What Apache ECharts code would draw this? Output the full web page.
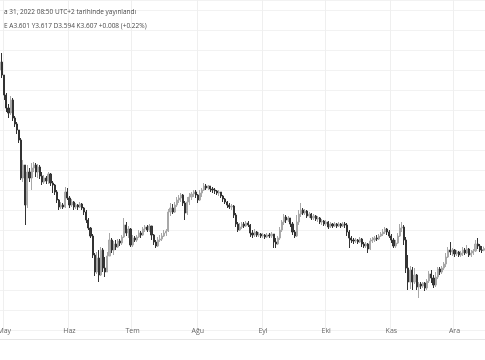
<!DOCTYPE html>
<html>
<head>
<meta charset="utf-8">
<script src="https://cdn.jsdelivr.net/npm/echarts@6/dist/echarts.min.js"></script>
<style>
html,body{margin:0;padding:0;background:#fff;}
#chart{width:485px;height:360px;}
</style>
</head>
<body>
<div id="chart"></div>
<script>
// ---- data ----
const startDate = '2022-04-29';
const monthNames = ['Oca','Şub','Mar','Nis','May','Haz','Tem','Ağu','Eyl','Eki','Kas','Ara'];
const headerLine1 = 'a 31, 2022 08:50 UTC+2 tarihinde yayınlandı';
const headerLine2 = 'E A3.601 Y3.617 D3.594 K3.607 +0.008 (+0.22%)';
const firstOpen = 4.500;
const closes = [4.540,4.475,4.375,4.310,4.285,4.350,4.260,4.230,4.200,4.150,
 3.960,4.025,3.825,3.990,3.960,4.010,4.025,3.990,4.015,3.970,
 3.940,3.960,3.945,3.980,3.935,3.925,3.890,3.850,3.815,3.825,
 3.815,3.890,3.860,3.825,3.840,3.815,3.825,3.815,3.830,3.810,
 3.790,3.750,3.710,3.670,3.575,3.490,3.560,3.475,3.600,3.510,
 3.490,3.570,3.650,3.600,3.630,3.615,3.645,3.635,3.665,3.725,
 3.685,3.705,3.625,3.660,3.650,3.665,3.685,3.675,3.705,3.715,
 3.700,3.720,3.675,3.640,3.620,3.650,3.655,3.670,3.685,3.695,
 3.790,3.810,3.790,3.825,3.850,3.860,3.875,3.835,3.785,3.840,
 3.865,3.880,3.890,3.875,3.850,3.885,3.900,3.920,3.910,3.920,
 3.905,3.900,3.895,3.885,3.890,3.870,3.855,3.840,3.825,3.815,
 3.820,3.775,3.730,3.700,3.715,3.730,3.720,3.735,3.725,3.685,
 3.675,3.690,3.675,3.680,3.670,3.675,3.665,3.675,3.670,3.680,
 3.640,3.630,3.660,3.700,3.740,3.765,3.750,3.760,3.730,3.690,
 3.670,3.740,3.780,3.800,3.785,3.795,3.770,3.780,3.760,3.770,
 3.755,3.760,3.740,3.745,3.730,3.740,3.715,3.730,3.720,3.730,
 3.720,3.730,3.720,3.730,3.725,3.690,3.660,3.650,3.645,3.650,
 3.640,3.655,3.630,3.620,3.630,3.605,3.645,3.650,3.660,3.655,
 3.670,3.680,3.690,3.705,3.690,3.670,3.650,3.620,3.635,3.670,
 3.710,3.715,3.650,3.510,3.440,3.500,3.440,3.475,3.415,3.430,
 3.420,3.435,3.410,3.445,3.480,3.460,3.425,3.465,3.505,3.490,
 3.510,3.530,3.565,3.600,3.590,3.600,3.580,3.590,3.575,3.585,
 3.600,3.585,3.605,3.575,3.585,3.595,3.630,3.620,3.600,3.599,
 3.607];
const highs = [4.565,4.585,4.460,4.385,4.330,4.370,4.360,4.270,4.240,4.200,
 4.160,4.050,4.025,4.025,4.010,4.035,4.040,4.035,4.030,4.025,
 3.990,3.975,3.970,3.990,3.985,3.945,3.930,3.900,3.855,3.840,
 3.835,3.915,3.910,3.870,3.855,3.845,3.835,3.830,3.840,3.835,
 3.815,3.800,3.760,3.715,3.680,3.585,3.590,3.600,3.615,3.610,
 3.565,3.590,3.685,3.660,3.645,3.650,3.655,3.655,3.675,3.760,
 3.740,3.720,3.710,3.675,3.670,3.675,3.700,3.695,3.715,3.725,
 3.725,3.730,3.715,3.680,3.650,3.665,3.675,3.685,3.700,3.705,
 3.805,3.835,3.830,3.840,3.865,3.875,3.885,3.880,3.845,3.865,
 3.885,3.890,3.900,3.900,3.880,3.900,3.910,3.935,3.930,3.925,
 3.920,3.915,3.910,3.900,3.900,3.890,3.875,3.860,3.845,3.835,
 3.830,3.825,3.785,3.740,3.735,3.740,3.740,3.745,3.745,3.730,
 3.700,3.705,3.695,3.690,3.685,3.685,3.680,3.685,3.685,3.690,
 3.680,3.660,3.670,3.715,3.750,3.780,3.775,3.770,3.760,3.740,
 3.700,3.775,3.800,3.835,3.810,3.805,3.800,3.790,3.785,3.780,
 3.775,3.770,3.765,3.755,3.750,3.750,3.745,3.740,3.735,3.740,
 3.735,3.740,3.735,3.740,3.740,3.735,3.700,3.670,3.660,3.660,
 3.655,3.665,3.660,3.640,3.640,3.635,3.660,3.665,3.670,3.675,
 3.680,3.690,3.705,3.715,3.710,3.700,3.680,3.660,3.650,3.685,
 3.730,3.740,3.725,3.665,3.575,3.520,3.515,3.510,3.480,3.440,
 3.440,3.440,3.440,3.455,3.495,3.500,3.475,3.490,3.515,3.515,
 3.520,3.540,3.585,3.615,3.640,3.610,3.605,3.600,3.595,3.595,
 3.615,3.610,3.625,3.610,3.600,3.605,3.650,3.660,3.630,3.620,
 3.617];
const lows = [4.490,4.460,4.350,4.290,4.260,4.275,4.245,4.215,4.180,4.135,
 3.950,3.940,3.725,3.810,3.940,3.900,3.990,3.965,3.960,3.955,
 3.925,3.930,3.930,3.930,3.920,3.885,3.875,3.835,3.800,3.805,
 3.805,3.810,3.850,3.810,3.815,3.800,3.805,3.800,3.810,3.800,
 3.775,3.735,3.700,3.660,3.560,3.470,3.480,3.440,3.470,3.490,
 3.465,3.500,3.570,3.585,3.575,3.600,3.610,3.620,3.625,3.660,
 3.670,3.660,3.615,3.615,3.640,3.640,3.660,3.660,3.670,3.690,
 3.690,3.690,3.650,3.625,3.610,3.615,3.640,3.645,3.665,3.670,
 3.690,3.770,3.780,3.785,3.815,3.835,3.840,3.820,3.750,3.775,
 3.825,3.850,3.865,3.860,3.835,3.845,3.865,3.895,3.900,3.900,
 3.890,3.885,3.880,3.875,3.870,3.860,3.840,3.830,3.810,3.805,
 3.800,3.760,3.715,3.690,3.695,3.705,3.710,3.715,3.715,3.665,
 3.660,3.665,3.665,3.665,3.660,3.660,3.655,3.660,3.660,3.660,
 3.610,3.610,3.625,3.650,3.690,3.725,3.735,3.740,3.715,3.675,
 3.660,3.665,3.725,3.765,3.775,3.775,3.760,3.760,3.750,3.750,
 3.745,3.740,3.730,3.725,3.720,3.720,3.705,3.710,3.710,3.715,
 3.710,3.715,3.710,3.715,3.710,3.670,3.610,3.635,3.630,3.635,
 3.630,3.635,3.615,3.610,3.610,3.585,3.600,3.635,3.640,3.645,
 3.650,3.665,3.670,3.680,3.675,3.660,3.635,3.610,3.610,3.630,
 3.665,3.690,3.625,3.485,3.400,3.405,3.400,3.430,3.400,3.360,
 3.405,3.410,3.395,3.400,3.435,3.435,3.410,3.415,3.455,3.475,
 3.480,3.500,3.515,3.560,3.575,3.570,3.565,3.570,3.565,3.565,
 3.570,3.575,3.580,3.565,3.565,3.575,3.590,3.605,3.590,3.585,
 3.594];

// ---- build categories and OHLC table ----
const dates = [];
const t0 = Date.parse(startDate + 'T00:00:00Z');
for (let i = 0; i < closes.length; i++) {
  dates.push(new Date(t0 + i * 86400000).toISOString().slice(0, 10));
}
const ohlc = closes.map((c, i) => {
  const o = i === 0 ? firstOpen : closes[i - 1];
  const h = Math.max(highs[i], o, c);
  const l = Math.min(lows[i], o, c);
  return [o, c, l, h];
});
const isMonthStart = (idx, val) => val.slice(8, 10) === '01';

const chart = echarts.init(document.getElementById('chart'), null, {renderer: 'canvas'});
chart.setOption({
  animation: false,
  backgroundColor: '#ffffff',
  title: {
    text: headerLine1,
    subtext: headerLine2,
    left: -1,
    top: 4,
    itemGap: 7,
    textStyle: {fontSize: 6.5, fontWeight: 'normal', color: '#4a4a4a', fontFamily: 'Open Sans'},
    subtextStyle: {fontSize: 6.5, color: '#4a4a4a', fontFamily: 'Open Sans'}
  },
  grid: {left: -1, right: 0, top: 0, bottom: 30, containLabel: false, outerBoundsMode: 'none'},
  xAxis: {
    type: 'category',
    data: dates,
    boundaryGap: true,
    offset: -10,
    axisLine: {show: false},
    axisTick: {show: false},
    axisLabel: {
      interval: isMonthStart,
      margin: 7,
      fontSize: 7,
      color: '#666',
      fontFamily: 'Open Sans',
      alignMinLabel: 'center',
      alignMaxLabel: 'center',
      formatter: v => monthNames[+v.slice(5, 7) - 1]
    },
    splitLine: {show: true, interval: isMonthStart, lineStyle: {color: '#efefef', width: 1}}
  },
  yAxis: {
    type: 'value',
    min: 3.2,
    max: 4.85,
    interval: 0.1,
    axisLine: {show: false},
    axisTick: {show: false},
    axisLabel: {show: false},
    splitLine: {show: true, lineStyle: {color: '#f2f2f2', width: 1}}
  },
  series: [{
    type: 'candlestick',
    data: ohlc,
    barWidth: 1.6,
    itemStyle: {
      color: '#b5b5b5',
      color0: '#3c3c3c',
      borderColor: '#a8a8a8',
      borderColor0: '#333333',
      borderWidth: 1
    }
  }],
  graphic: [{
    type: 'line',
    shape: {x1: 0, y1: 339.5, x2: 485, y2: 339.5},
    style: {stroke: '#e6e6e6', lineWidth: 1},
    silent: true
  }]
});
</script>
</body>
</html>
